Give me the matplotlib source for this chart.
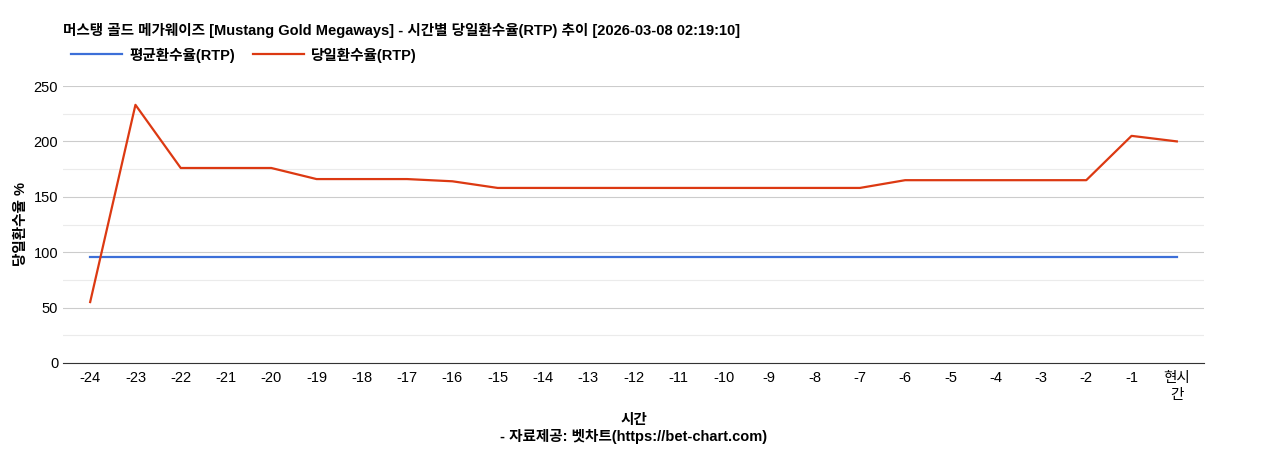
import matplotlib
matplotlib.use("Agg")
import matplotlib.pyplot as plt

plt.rcParams['font.family'] = ['Liberation Sans', 'Noto Sans CJK KR', 'DejaVu Sans']

labels = [str(i) for i in range(-24, 0)] + ['현시\n간']
avg_rtp = [96] * 25
day_rtp = [55, 233, 176, 176, 176, 166, 166, 166, 164,
           158, 158, 158, 158, 158, 158, 158, 158, 158,
           165, 165, 165, 165, 165, 205, 200]

fig = plt.figure(figsize=(12.68, 4.5), dpi=100)
ax = fig.add_axes([63/1268, 87/450, (1204-63)/1268, (363-86)/450])
x = list(range(25))
ax.plot(x, avg_rtp, color='#3c6fd8', lw=1.6)
ax.plot(x, day_rtp, color='#dc3912', lw=1.6)
ax.set_xlim(-0.6, 24.6)
ax.set_ylim(0, 250)
ax.set_yticks([0, 50, 100, 150, 200, 250])
ax.set_yticks([25, 75, 125, 175, 225], minor=True)
ax.grid(axis='y', which='major', color='#cccccc', lw=0.8)
ax.grid(axis='y', which='minor', color='#ebebeb', lw=0.8)
ax.set_axisbelow(True)
ax.set_xticks(x)
ax.set_xticklabels(labels, fontsize=10.5)
ax.tick_params(axis='y', which='both', labelsize=10.5, length=0)
ax.tick_params(axis='x', length=0, pad=6)
for s in ['top', 'right', 'left']:
    ax.spines[s].set_visible(False)
ax.spines['bottom'].set_color('#333333')
ax.set_ylabel('당일환수율 %', fontsize=10.5, fontweight='bold')
ax.set_xlabel('시간', fontsize=10.5, fontweight='bold', labelpad=8)

fig.text(63/1268, 1-30/450, '머스탱 골드 메가웨이즈 [Mustang Gold Megaways] - 시간별 당일환수율(RTP) 추이 [2026-03-08 02:19:10]',
         fontsize=10.5, fontweight='bold', va='center', ha='left')
fig.text(0.5, 1-437/450, '- 자료제공: 벳차트(https://bet-chart.com)', fontsize=10.5, fontweight='bold',
         ha='center', va='center')
fig.legend(handles=ax.lines, labels=['평균환수율(RTP)', '당일환수율(RTP)'],
           loc='center left', bbox_to_anchor=(58/1268, 1-55/450), ncol=2, frameon=False,
           prop={'size': 10.5, 'weight': 'bold'}, handlelength=3.5, columnspacing=1.2, handletextpad=0.5)
fig.savefig('out.png', dpi=100)
